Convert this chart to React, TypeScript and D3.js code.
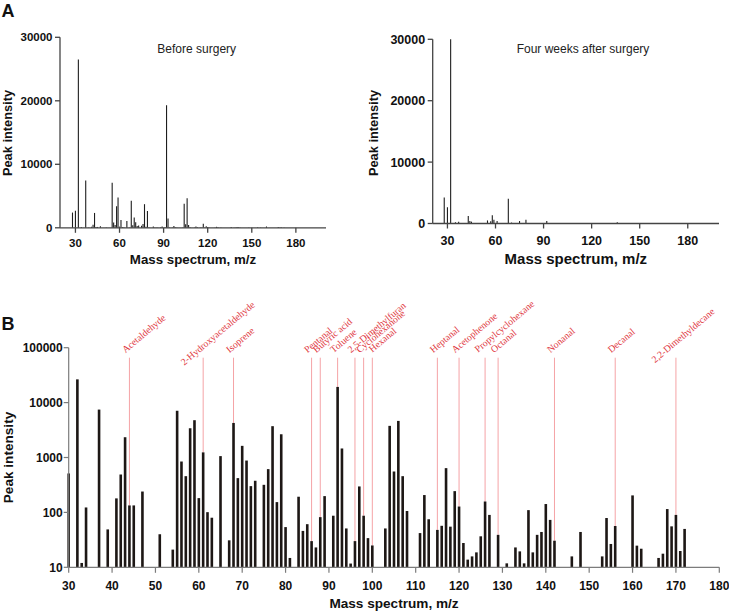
import React from 'react';
import * as d3 from 'd3';

// ---- Panel B spectrum (log scale), m/z and peak intensity ----
const spectrumMz = [
  30, 32, 33, 34, 37, 39, 41, 42, 43, 44, 45, 47, 51, 54, 55, 56, 57, 58, 59, 60,
  61, 62, 63, 65, 67, 68, 69, 70, 71, 72, 73, 75, 76, 77, 78, 79, 80, 81, 83, 84,
  85, 86, 87, 88, 89, 91, 92, 93, 94, 95, 96, 97, 98, 99, 100, 103, 104, 105, 106, 107,
  108, 111, 112, 113, 115, 116, 117, 118, 119, 120, 121, 122, 123, 124, 125, 126, 127, 129, 131, 133,
  134, 135, 136, 137, 138, 139, 140, 141, 142, 146, 148, 153, 154, 155, 156, 160, 161, 162, 166, 167,
  168, 169, 170, 171, 172,
];
const spectrumIntensity = [
  512, 26500, 12, 123, 7460, 49, 180, 490, 2340, 134, 134, 240, 40, 21, 7100, 845, 457, 3410, 4780, 182,
  1240, 101, 80, 1060, 31, 4260, 421, 1630, 880, 301, 377, 318, 614, 3720, 154, 2650, 54, 14.8, 193, 46,
  61, 30, 23, 82, 198, 87, 19300, 1460, 51, 11.7, 30, 297, 87, 34, 25, 51, 3770, 556, 4640, 457,
  106, 42, 207, 75, 48, 57, 640, 55, 244, 128, 27.7, 13.8, 15.8, 18.7, 36.7, 158, 90, 39, 11.8, 23,
  19.5, 11.8, 110, 18.7, 39, 44, 142, 73, 30.5, 15.8, 44, 15.8, 79, 26.6, 56.5, 204, 24.8, 21.8, 14.8, 17.7,
  115, 55.7, 90, 19.8, 50,
];

// ---- Panel A (before surgery) extra low-mass peaks (override) ----
const beforeLowMz = [28, 30];
const beforeLowIntensity = [2400, 2670];

// ---- Panel A (four weeks after surgery) ----
const afterMz = [28, 30, 32, 35, 37, 43, 44, 45, 55, 57, 58, 59, 61, 68, 70, 75, 79, 92, 136];
const afterIntensity = [4220, 2650, 30000, 200, 300, 1230, 400, 300, 500, 350, 1340, 600, 400, 4050, 150, 400, 600, 400, 200];

// ---- Annotated compounds ----
const compoundMz = [44, 61, 68, 86, 88, 92, 96, 98, 100, 115, 120, 126, 129, 142, 156, 170];
const compoundNames = [
  'Acetaldehyde', '2-Hydroxyacetaldehyde', 'Isoprene', 'Pentanal', 'Butyric acid', 'Toluene',
  '2,5-Dimethylfuran', 'Cyclohexanone', 'Hexanal', 'Heptanal', 'Acetophenone', 'Propylcyclohexane',
  'Octanal', 'Nonanal', 'Decanal', '2,2-Dimethyldecane',
];

// ---- Tick values ----
const linearTicks = [0, 10000, 20000, 30000];
const mzTicksA = [30, 60, 90, 120, 150, 180];
const mzTicksB = [30, 40, 50, 60, 70, 80, 90, 100, 110, 120, 130, 140, 150, 160, 170, 180];
const logTicks = [10, 100, 1000, 10000, 100000];

const SANS = '"Liberation Sans", Arial, Helvetica, sans-serif';
const SERIF = '"Liberation Serif", "Times New Roman", serif';

type PanelProps = {
  mz: number[];
  vals: number[];
  domain: [number, number];
  x0: number;
  x1: number;
  yTop: number;
  yZero: number;
  title: string;
  titleX: number;
  ylabX: number;
  tickFont: number;
  axisFont: number;
  xTitleFont: number;
  xTickBase: number;
};

function LinearPanel(p: PanelProps) {
  const x = d3.scaleLinear().domain(p.domain).range([p.x0, p.x1]);
  const y = d3.scaleLinear().domain([0, 30000]).range([p.yZero, p.yTop]);
  const axisColor = '#444';
  return (
    <g>
      {p.mz.map((m, i) => (
        <line key={i} x1={x(m)} x2={x(m)} y1={y(0)} y2={y(p.vals[i])} stroke="#1e1e1e" strokeWidth={1.1} />
      ))}
      <line x1={p.x0} x2={p.x0} y1={y(0)} y2={y(30000)} stroke={axisColor} strokeWidth={1.3} />
      <line x1={p.x0} x2={p.x1} y1={y(0)} y2={y(0)} stroke={axisColor} strokeWidth={1.3} />
      {linearTicks.map((t) => (
        <g key={t}>
          <line x1={p.x0 - 5} x2={p.x0} y1={y(t)} y2={y(t)} stroke={axisColor} strokeWidth={1.3} />
          <text x={p.x0 - 7.5} y={y(t)} dy="0.36em" textAnchor="end" fontFamily={SANS} fontWeight="bold" fontSize={p.tickFont} fill="#111">
            {t}
          </text>
        </g>
      ))}
      {mzTicksA.map((t) => (
        <g key={t}>
          <line x1={x(t)} x2={x(t)} y1={y(0)} y2={y(0) + 5} stroke={axisColor} strokeWidth={1.3} />
          <text x={x(t)} y={p.xTickBase} textAnchor="middle" fontFamily={SANS} fontWeight="bold" fontSize={p.tickFont} fill="#111">
            {t}
          </text>
        </g>
      ))}
      <text x={(p.x0 + p.x1) / 2} y={264} textAnchor="middle" fontFamily={SANS} fontWeight="bold" fontSize={p.xTitleFont} fill="#111">
        Mass spectrum, m/z
      </text>
      <text transform={`translate(${p.ylabX},133) rotate(-90)`} dy="0.36em" textAnchor="middle" fontFamily={SANS} fontWeight="bold" fontSize={p.axisFont} fill="#111">
        Peak intensity
      </text>
      <text x={p.titleX} y={52.5} textAnchor="middle" fontFamily={SANS} fontSize={12} fill="#222">
        {p.title}
      </text>
    </g>
  );
}

const labelOffsets: Record<string, [number, number]> = {
  '2-Hydroxyacetaldehyde': [-19, 8],
  '2,2-Dimethyldecane': [-21, 5.5],
  'Propylcyclohexane': [-7, -5],
  Hexanal: [0, -5],
};

function LogPanel() {
  const x0 = 68.7;
  const x1 = 719.3;
  const x = d3.scaleLinear().domain([30, 180]).range([x0, x1]);
  const y = d3.scaleLog().domain([10, 100000]).range([567.3, 347.7]);
  const axisColor = '#7c7c7c';
  const lineTop = 357.7;
  const valueAt = (m: number) => spectrumIntensity[spectrumMz.indexOf(m)];
  return (
    <g>
      {compoundMz.map((m, i) => (
        <line key={'l' + i} x1={x(m)} x2={x(m)} y1={lineTop} y2={y(valueAt(m))} stroke="#f5a3a6" strokeWidth={1} />
      ))}
      {spectrumMz.map((m, i) => (
        <rect key={i} x={x(m) - 1.3} width={2.6} y={y(spectrumIntensity[i])} height={y(10) - y(spectrumIntensity[i])} fill="#1d1715" />
      ))}
      {compoundMz.map((m, i) => {
        const name = compoundNames[i];
        const off = labelOffsets[name] || [-4, -4.5];
        return (
          <text
            key={'t' + i}
            transform={`translate(${x(m) + off[0]},${lineTop + off[1]}) rotate(-40)`}
            fontFamily={SERIF}
            fontSize={9.7}
            fill="#e0353b"
          >
            {name}
          </text>
        );
      })}
      <line x1={x0} x2={x0} y1={y(10)} y2={y(100000)} stroke={axisColor} strokeWidth={1.2} />
      <line x1={x0} x2={x1} y1={y(10)} y2={y(10)} stroke={axisColor} strokeWidth={1.2} />
      {logTicks.map((t) => (
        <g key={t}>
          <line x1={x0 - 5} x2={x0} y1={y(t)} y2={y(t)} stroke={axisColor} strokeWidth={1.2} />
          <text x={x0 - 6} y={y(t)} dy="0.36em" textAnchor="end" fontFamily={SANS} fontWeight="bold" fontSize={12} fill="#111">
            {t}
          </text>
        </g>
      ))}
      {mzTicksB.map((t) => (
        <g key={t}>
          <line x1={x(t)} x2={x(t)} y1={y(10)} y2={y(10) + 5.5} stroke={axisColor} strokeWidth={1.2} />
          <text x={x(t)} y={590} textAnchor="middle" fontFamily={SANS} fontWeight="bold" fontSize={12} fill="#111">
            {t}
          </text>
        </g>
      ))}
      <text x={(x0 + x1) / 2} y={608} textAnchor="middle" fontFamily={SANS} fontWeight="bold" fontSize={13.6} fill="#111">
        Mass spectrum, m/z
      </text>
      <text transform="translate(8.5,457.5) rotate(-90)" dy="0.36em" textAnchor="middle" fontFamily={SANS} fontWeight="bold" fontSize={13.6} fill="#111">
        Peak intensity
      </text>
    </g>
  );
}

export default function App() {
  // panel A "before" = full spectrum with low-mass peaks overridden
  const beforeMap = new Map<number, number>();
  spectrumMz.forEach((m, i) => beforeMap.set(m, spectrumIntensity[i]));
  beforeLowMz.forEach((m, i) => beforeMap.set(m, beforeLowIntensity[i]));
  const beforeMz = Array.from(beforeMap.keys()).sort((a, b) => a - b);
  const beforeVals = beforeMz.map((m) => beforeMap.get(m) as number);

  return (
    <svg width={729} height={615} style={{ position: 'absolute', left: 0, top: 0, background: '#fff' }}>
      <rect width={729} height={615} fill="#fff" />
      <text x={1.5} y={17} fontFamily={SANS} fontWeight="bold" fontSize={18} fill="#111">A</text>
      <text x={1.5} y={329.5} fontFamily={SANS} fontWeight="bold" fontSize={18} fill="#111">B</text>
      <LinearPanel
        mz={beforeMz}
        vals={beforeVals}
        domain={[19.5, 200.5]}
        x0={60}
        x1={326}
        yTop={37.3}
        yZero={227.8}
        title="Before surgery"
        titleX={196.7}
        ylabX={7.5}
        tickFont={11.5}
        axisFont={12.8}
        xTitleFont={13.3}
        xTickBase={246.5}
      />
      <LinearPanel
        mz={afterMz}
        vals={afterIntensity}
        domain={[20.8, 199.5]}
        x0={432.7}
        x1={719}
        yTop={39.3}
        yZero={223.5}
        title="Four weeks after surgery"
        titleX={583}
        ylabX={373}
        tickFont={12.5}
        axisFont={12.8}
        xTitleFont={15}
        xTickBase={245}
      />
      <LogPanel />
    </svg>
  );
}
